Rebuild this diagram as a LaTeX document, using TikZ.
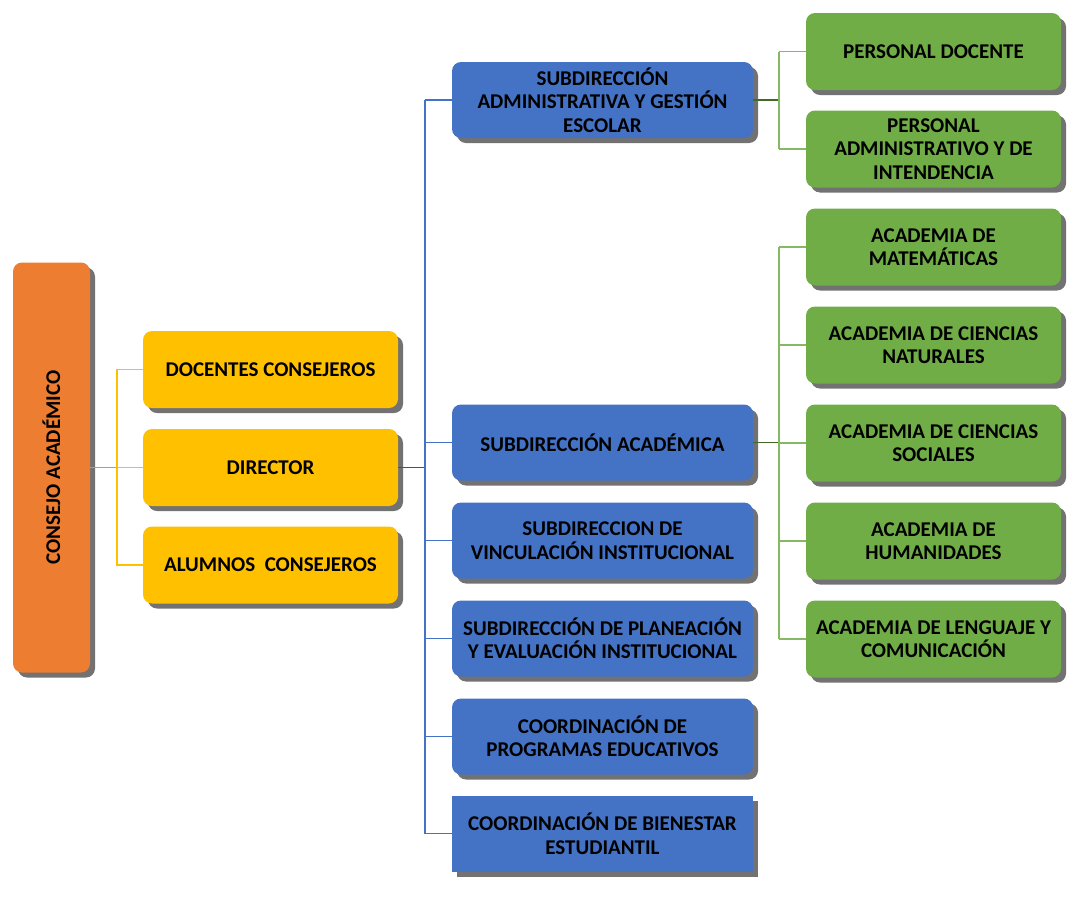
\documentclass[tikz,border=0pt]{standalone}
\usepackage{fontspec}
\setmainfont{Carlito}
\usepackage{tikz}
\usetikzlibrary{positioning,shadows}

\definecolor{ca-orange}{HTML}{ED7D31}
\definecolor{ca-yellow}{HTML}{FFC000}
\definecolor{ca-blue}{HTML}{4472C4}
\definecolor{ca-green}{HTML}{70AD47}
\definecolor{ca-bluedark}{HTML}{2F5597}
\definecolor{ca-greendark}{HTML}{3F6B26}
\definecolor{ca-yellowdark}{HTML}{D9A000}

\begin{document}
\begin{tikzpicture}[
    x=1pt, y=-1pt,
    font=\fontsize{21}{23.5}\selectfont\bfseries,
    unit/.style={
        draw=none,
        rounded corners=9pt,
        align=center,
        inner sep=0pt,
        text=black,
        drop shadow={shadow xshift=5pt, shadow yshift=-5pt,
            fill=black!85, opacity=0.65}
    },
    topbox/.style={unit, fill=ca-orange, minimum width=77pt, minimum height=410pt},
    ybox/.style={unit, fill=ca-yellow, minimum width=255pt, minimum height=77pt},
    bbox/.style={unit, fill=ca-blue, minimum width=301pt, minimum height=76pt},
    gbox/.style={unit, fill=ca-green, minimum width=255pt, minimum height=77pt},
    yline/.style={draw=ca-yellow, line width=1.5pt},
    bline/.style={draw=ca-blue, line width=1.5pt},
    gline/.style={draw=ca-green!85!white, line width=1.5pt}
]

% Stable crop.
\path[use as bounding box] (0,0) rectangle (1088,900);

% --------------------------------------------------
% Consejo and first level
% --------------------------------------------------
\node[topbox] (consejo) at (51.5,467.5) {};
\node[rotate=90] (consejotxt) at (consejo) {CONSEJO ACADÉMICO};

\node[ybox] (docentes) at (270.5,369.5) {DOCENTES CONSEJEROS};
\node[ybox] (director) at (270.5,467.5) {DIRECTOR};
\node[ybox] (alumnos)  at (270.5,565.0) {ALUMNOS\ \ CONSEJEROS};

% --------------------------------------------------
% Subdirecciones and coordinaciones
% --------------------------------------------------
\node[bbox] (subadmin) at (602.5,100.0) {SUBDIRECCIÓN\\ADMINISTRATIVA Y GESTIÓN\\ESCOLAR};
\node[bbox] (subacad)  at (602.5,442.5) {SUBDIRECCIÓN ACADÉMICA};
\node[bbox] (vinc)     at (602.5,540.5) {SUBDIRECCION DE\\VINCULACIÓN INSTITUCIONAL};
\node[bbox] (plan)     at (602.5,638.5) {SUBDIRECCIÓN DE PLANEACIÓN\\Y EVALUACIÓN INSTITUCIONAL};
\node[bbox] (progr)    at (602.5,736.5) {COORDINACIÓN DE\\PROGRAMAS EDUCATIVOS};
\node[bbox, rounded corners=0pt] (bien) at (602.5,833.5) {COORDINACIÓN DE BIENESTAR\\ESTUDIANTIL};

% --------------------------------------------------
% Personal and academias
% --------------------------------------------------
\node[gbox] (pdoc) at (933.5,51.5)  {PERSONAL DOCENTE};
\node[gbox] (padm) at (933.5,149.0) {PERSONAL\\ADMINISTRATIVO Y DE\\INTENDENCIA};
\node[gbox] (amat) at (933.5,247.0) {ACADEMIA DE\\MATEMÁTICAS};
\node[gbox] (anat) at (933.5,345.0) {ACADEMIA DE CIENCIAS\\NATURALES};
\node[gbox] (asoc) at (933.5,443.0) {ACADEMIA DE CIENCIAS\\SOCIALES};
\node[gbox] (ahum) at (933.5,541.0) {ACADEMIA DE\\HUMANIDADES};
\node[gbox] (alen) at (933.5,639.0) {ACADEMIA DE LENGUAJE Y\\COMUNICACIÓN};

% Helper coordinates for the junction bars.
\coordinate (yjoin) at (117,467.5);
\coordinate (bjoin) at (425,467.5);
\coordinate (gjoina) at (779,100.0);
\coordinate (gjoinb) at (779,442.5);

% --------------------------------------------------
% Connectors
% --------------------------------------------------
\draw[yline, draw=ca-yellowdark] (consejo.east) -- (yjoin);
\draw[yline] (docentes.west) -| (yjoin) |- (alumnos.west);
\draw[yline] (yjoin) -- (director.west);

\draw[bline, draw=ca-bluedark] (director.east) -- (bjoin);
\draw[bline] (bjoin |- subadmin) -- (bjoin |- bien);
\foreach \n in {subadmin,subacad,vinc,plan,progr,bien}
    \draw[bline] (bjoin |- \n) -- (\n.west);

\draw[gline, draw=ca-greendark] (subadmin.east) -- (gjoina);
\draw[gline] (gjoina |- pdoc) -- (gjoina |- padm);
\foreach \n in {pdoc,padm}
    \draw[gline] (gjoina |- \n) -- (\n.west);

\draw[gline, draw=ca-greendark] (subacad.east) -- (gjoinb);
\draw[gline] (gjoinb |- amat) -- (gjoinb |- alen);
\foreach \n in {amat,anat,asoc,ahum,alen}
    \draw[gline] (gjoinb |- \n) -- (\n.west);

\end{tikzpicture}
\end{document}
